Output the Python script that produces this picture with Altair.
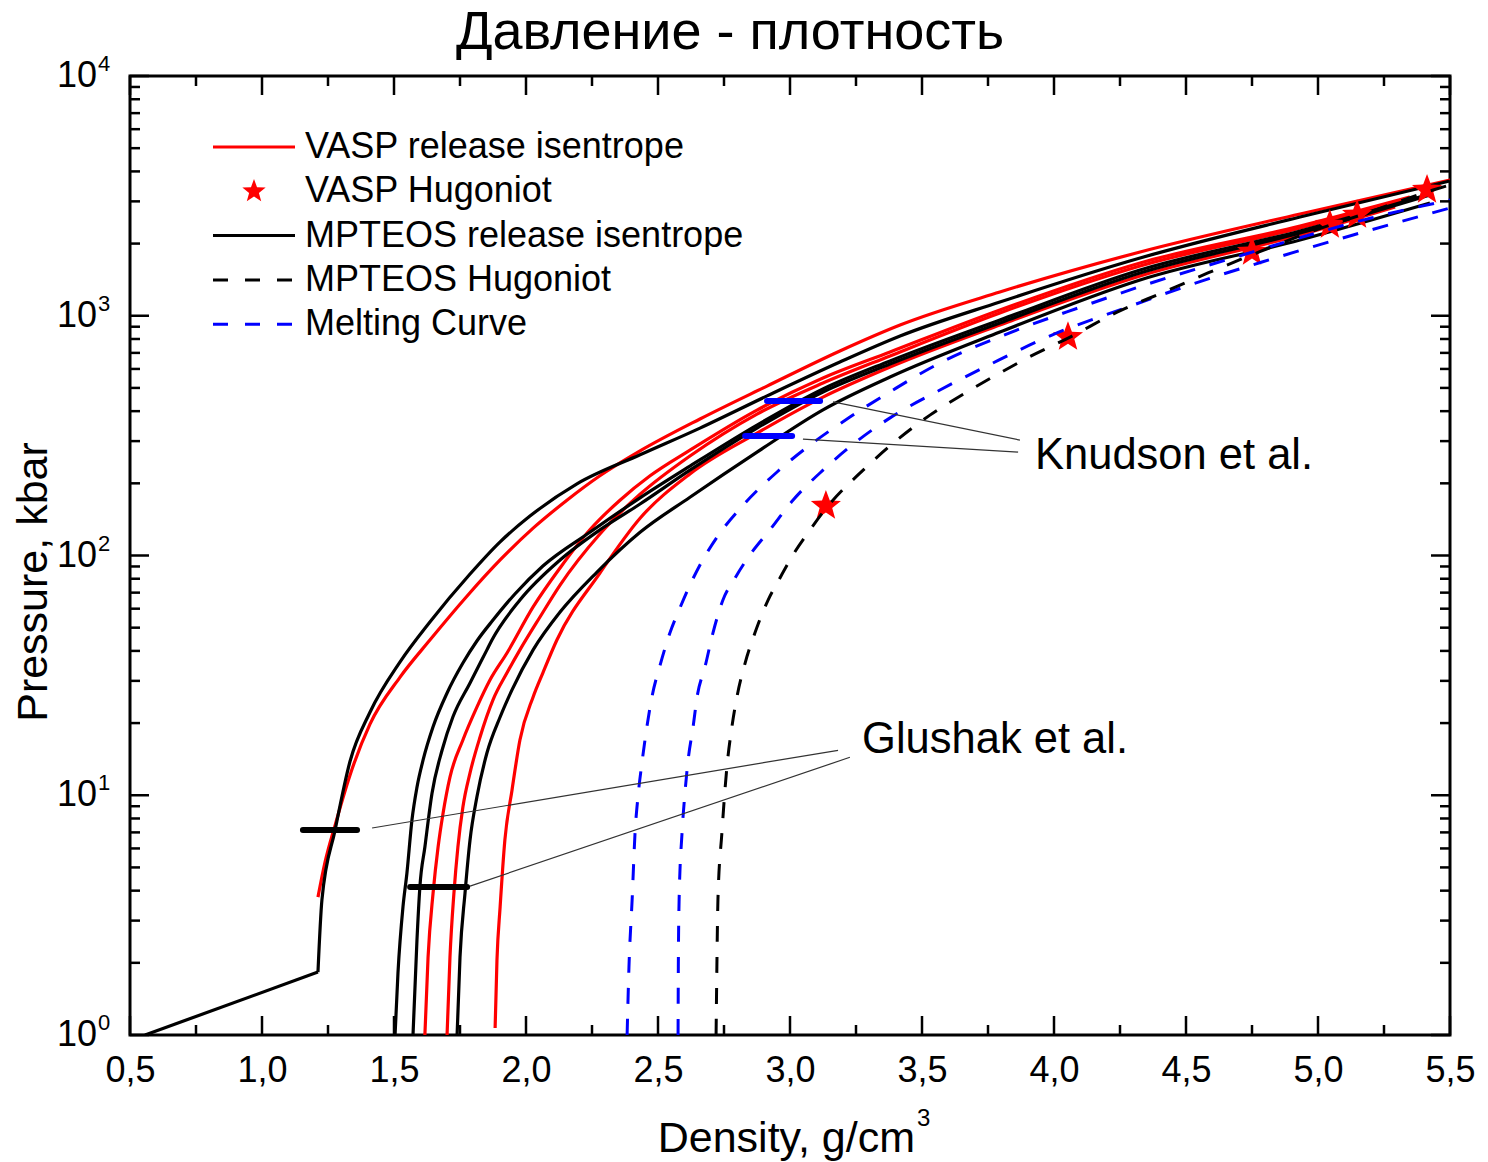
import altair as alt
import pandas as pd

# ---------------- data (density g/cm3, pressure kbar) ----------------
# VASP release isentropes (red)
vasp1_rho = [1.212, 1.239, 1.277, 1.333, 1.409, 1.523, 1.636, 1.777, 1.902, 2.027, 2.155, 2.280, 2.432, 2.659, 2.913, 3.189, 3.417, 3.795, 4.326, 4.932, 5.500]
vasp1_p = [3.76, 5.27, 7.51, 12.1, 19.8, 31.1, 44.4, 67.8, 95.8, 130, 170, 215, 273, 371, 509, 713, 915, 1256, 1845, 2658, 3684]
vasp2_rho = [1.617, 1.629, 1.648, 1.667, 1.686, 1.712, 1.761, 1.814, 1.864, 1.928, 2.027, 2.129, 2.242, 2.356, 2.470, 2.621, 2.875, 3.125, 3.379, 3.795, 4.326, 4.932, 5.348]
vasp2_p = [1.00, 2.11, 3.91, 6.08, 8.43, 11.9, 17.0, 23.3, 30.3, 39.2, 61.0, 88.7, 128, 170, 215, 275, 404, 550, 706, 1057, 1660, 2368, 3129]
vasp3_rho = [1.701, 1.712, 1.727, 1.742, 1.761, 1.788, 1.826, 1.875, 1.928, 1.977, 2.053, 2.129, 2.280, 2.432, 2.621, 2.875, 3.125, 3.379, 3.795, 4.326, 4.932, 5.348]
vasp3_p = [1.00, 2.11, 3.91, 6.08, 8.93, 12.4, 17.5, 25.0, 32.4, 40.4, 55.4, 75.3, 123, 180, 260, 389, 524, 680, 1027, 1613, 2323, 3100]
vasp4_rho = [1.883, 1.890, 1.902, 1.920, 1.947, 1.977, 2.027, 2.064, 2.117, 2.280, 2.432, 2.621, 2.875, 3.125, 3.379, 3.795, 4.326, 4.932, 5.292]
vasp4_p = [1.07, 2.05, 3.42, 6.51, 10.5, 17.0, 25.7, 32.4, 44.4, 84.5, 143, 219, 324, 458, 611, 915, 1465, 2172, 2842]

# MPTEOS release isentropes (black); the first one has a low-density branch
mpt1_low_rho = [0.557, 1.212]
mpt1_low_p = [1.00, 1.83]
mpt1_rho = [1.212, 1.227, 1.277, 1.333, 1.409, 1.523, 1.636, 1.788, 1.902, 2.015, 2.193, 2.432, 2.659, 2.913, 3.189, 3.417, 3.795, 4.326, 4.932, 5.500]
mpt1_p = [1.83, 3.66, 7.16, 13.8, 22.2, 36.0, 52.8, 83.7, 114, 146, 199, 263, 340, 463, 641, 823, 1141, 1741, 2582, 3649]
mpt2_rho = [1.504, 1.515, 1.534, 1.549, 1.568, 1.587, 1.610, 1.648, 1.701, 1.761, 1.814, 1.875, 1.958, 2.064, 2.242, 2.432, 2.621, 2.875, 3.125, 3.379, 3.795, 4.326, 4.932, 5.424]
mpt2_p = [1.00, 1.81, 3.42, 4.74, 7.88, 10.8, 14.0, 19.3, 26.7, 35.6, 44.0, 53.8, 69.1, 90.4, 125, 174, 236, 350, 495, 648, 960, 1552, 2257, 3220]
mpt3_rho = [1.572, 1.587, 1.598, 1.617, 1.644, 1.682, 1.723, 1.788, 1.852, 1.871, 1.977, 2.129, 2.280, 2.432, 2.621, 2.875, 3.125, 3.379, 3.795, 4.326, 4.932, 5.424]
mpt3_p = [1.00, 2.49, 4.14, 6.08, 10.2, 15.4, 21.2, 29.4, 40.4, 44.4, 65.2, 95.8, 128, 164, 227, 340, 481, 629, 933, 1508, 2214, 3189]
mpt4_rho = [1.739, 1.750, 1.769, 1.788, 1.814, 1.852, 1.902, 1.947, 2.027, 2.129, 2.269, 2.432, 2.621, 2.875, 3.125, 3.379, 3.795, 4.326, 4.932, 5.424]
mpt4_p = [1.00, 2.11, 3.91, 6.51, 9.83, 15.0, 21.2, 27.5, 40.4, 58.1, 85.3, 125, 175, 270, 405, 555, 855, 1410, 2070, 2953]

# MPTEOS Hugoniot (black dashed)
hug_rho = [2.720, 2.723, 2.727, 2.742, 2.761, 2.780, 2.799, 2.830, 2.867, 2.917, 2.962, 3.011, 3.076, 3.140, 3.277, 3.405, 3.530, 3.670, 3.795, 3.898, 4.061, 4.239, 4.417, 4.583, 4.777, 4.970, 5.174, 5.436, 5.500]
hug_p = [1.00, 1.92, 3.66, 6.96, 13.1, 19.3, 25.7, 35.6, 47.5, 65.2, 80.6, 100.5, 128, 159, 227, 303, 385, 481, 577, 666, 815, 1036, 1256, 1508, 1845, 2235, 2658, 3346, 3511]

# Melting curves (blue dashed)
melt1_rho = [2.383, 2.390, 2.402, 2.413, 2.424, 2.439, 2.458, 2.477, 2.508, 2.545, 2.583, 2.621, 2.659, 2.723, 2.822, 2.951, 3.076, 3.227, 3.390, 3.553, 3.830, 4.102, 4.379, 4.652, 4.928, 5.201, 5.500]
melt1_p = [1.00, 1.92, 3.66, 6.96, 9.83, 13.6, 19.3, 25.7, 34.9, 47.5, 60.4, 75.3, 91.3, 119, 162, 223, 289, 378, 490, 623, 847, 1088, 1383, 1708, 2110, 2557, 3040]
melt2_rho = [2.576, 2.577, 2.580, 2.591, 2.602, 2.614, 2.633, 2.648, 2.678, 2.708, 2.746, 2.792, 2.848, 2.924, 3.011, 3.125, 3.254, 3.379, 3.568, 3.761, 3.992, 4.269, 4.515, 4.788, 5.133, 5.500]
melt2_p = [1.00, 1.92, 3.66, 6.96, 10.2, 14.0, 19.3, 25.7, 34.3, 47.5, 65.2, 80.6, 100.5, 128, 170, 227, 300, 375, 490, 629, 831, 1077, 1344, 1676, 2172, 2814]

# VASP Hugoniot points (red stars)
vasp_hug_rho = [3.136, 4.053, 4.750, 5.045, 5.148, 5.413]
vasp_hug_p = [161, 815, 1845, 2392, 2632, 3348]

# Experimental bars
knudson_rho_lo = [2.913, 2.830]
knudson_rho_hi = [3.114, 3.008]
knudson_p = [441, 315]
glushak_rho_lo = [1.155, 1.561]
glushak_rho_hi = [1.360, 1.777]
glushak_p = [7.16, 4.14]

# Annotation leader lines and labels
glushak_lead_rho0 = [1.417, 1.788]
glushak_lead_p0 = [7.30, 4.18]
glushak_lead_rho1 = [3.182, 3.227]
glushak_lead_p1 = [15.4, 14.4]
knudson_lead_rho0 = [3.163, 3.049]
knudson_lead_p0 = [437, 306]
knudson_lead_rho1 = [3.871, 3.864]
knudson_lead_p1 = [303, 270]
label_text = ["Glushak et al.", "Knudson et al."]
label_rho = [3.273, 3.928]
label_p = [17.0, 260]

# Axis ticks
x_major = [0.5, 1.0, 1.5, 2.0, 2.5, 3.0, 3.5, 4.0, 4.5, 5.0, 5.5]
x_minor = [0.75, 1.25, 1.75, 2.25, 2.75, 3.25, 3.75, 4.25, 4.75, 5.25]
y_major = [1, 10, 100, 1000, 10000]
y_exp = ["0", "1", "2", "3", "4"]
y_minor = [k * 10 ** d for d in range(4) for k in range(2, 10)]

legend_labels = ["VASP release isentrope", "VASP Hugoniot", "MPTEOS release isentrope",
                 "MPTEOS Hugoniot", "Melting Curve"]

# ---------------- styling ----------------
FONT = "Liberation Sans"
W, H = 1320, 959
RED = "#ff0000"
BLUE = "#0000ff"
DASH = [16, 15]
LW = 3.2
STAR = ("M0,-1L0.247,-0.34L0.951,-0.309L0.399,0.13L0.588,0.809L0,0.42"
        "L-0.588,0.809L-0.399,0.13L-0.951,-0.309L-0.247,-0.34Z")

XSCALE = alt.Scale(domain=[0.5, 5.5], nice=False, zero=False)
YSCALE = alt.Scale(type="log", domain=[1, 10000], nice=False)
XAXIS = alt.Axis(values=x_major, labelExpr="replace(format(datum.value, '.1f'), '.', ',')",
                 labelFont=FONT, labelFontSize=36, labelColor="black", labelPadding=18,
                 ticks=False, tickSize=0, domain=False, grid=False, title=None,
                 labelFlush=False, labelOverlap=False, orient="bottom")


def X(f):
    return alt.X(f"{f}:Q", scale=XSCALE, axis=XAXIS)


def Y(f):
    return alt.Y(f"{f}:Q", scale=YSCALE, axis=None)


def curve(rho, p, color, dash=None, width=LW, interp="monotone"):
    df = pd.DataFrame({"rho": rho, "p": p, "i": list(range(len(rho)))})
    kw = dict(color=color, strokeWidth=width, clip=True, interpolate=interp, strokeJoin="round")
    if dash:
        kw["strokeDash"] = dash
    return alt.Chart(df).mark_line(**kw).encode(x=X("rho"), y=Y("p"), order="i:Q")


layers = []

# VASP isentropes (red), then MPTEOS isentropes (black)
for r, p in [(vasp1_rho, vasp1_p), (vasp2_rho, vasp2_p), (vasp3_rho, vasp3_p), (vasp4_rho, vasp4_p)]:
    layers.append(curve(r, p, RED))
layers.append(curve(mpt1_low_rho, mpt1_low_p, "black", interp="linear"))
for r, p in [(mpt1_rho, mpt1_p), (mpt2_rho, mpt2_p), (mpt3_rho, mpt3_p), (mpt4_rho, mpt4_p)]:
    layers.append(curve(r, p, "black"))

# VASP Hugoniot stars
stars = pd.DataFrame({"rho": vasp_hug_rho, "p": vasp_hug_p})
layers.append(alt.Chart(stars).mark_point(shape=STAR, filled=True, color=RED, size=1000,
                                          opacity=1, strokeWidth=0, clip=True)
              .encode(x=X("rho"), y=Y("p")))

# Melting curves and MPTEOS Hugoniot (dashed)
layers.append(curve(melt1_rho, melt1_p, BLUE, DASH, 3))
layers.append(curve(melt2_rho, melt2_p, BLUE, DASH, 3))
layers.append(curve(hug_rho, hug_p, "black", DASH, 3))

# leader lines
lead = pd.DataFrame({
    "r0": glushak_lead_rho0 + knudson_lead_rho0,
    "p0": glushak_lead_p0 + knudson_lead_p0,
    "r1": glushak_lead_rho1 + knudson_lead_rho1,
    "p1": glushak_lead_p1 + knudson_lead_p1,
})
layers.append(alt.Chart(lead).mark_rule(color="#333333", strokeWidth=1.2)
              .encode(x=X("r0"), y=Y("p0"), x2=alt.X2("r1"), y2=alt.Y2("p1")))

# experimental bars
kn = pd.DataFrame({"lo": knudson_rho_lo, "hi": knudson_rho_hi, "p": knudson_p})
layers.append(alt.Chart(kn).mark_rule(color=BLUE, strokeWidth=6, strokeCap="round")
              .encode(x=X("lo"), x2=alt.X2("hi"), y=Y("p")))
gl = pd.DataFrame({"lo": glushak_rho_lo, "hi": glushak_rho_hi, "p": glushak_p})
layers.append(alt.Chart(gl).mark_rule(color="black", strokeWidth=6, strokeCap="round")
              .encode(x=X("lo"), x2=alt.X2("hi"), y=Y("p")))

# annotation labels
lab = pd.DataFrame({"t": label_text, "rho": label_rho, "p": label_p})
layers.append(alt.Chart(lab).mark_text(font=FONT, fontSize=43.5, align="left", baseline="middle",
                                       color="black")
              .encode(x=X("rho"), y=Y("p"), text="t:N"))

# inward ticks on all four sides
MAJ, MIN = 19, 10
dfxM = pd.DataFrame({"v": x_major})
dfxm = pd.DataFrame({"v": x_minor})
dfyM = pd.DataFrame({"v": y_major})
dfym = pd.DataFrame({"v": y_minor})
tick_kw = dict(color="black", strokeWidth=2.5)
for df, L in [(dfxM, MAJ), (dfxm, MIN)]:
    layers.append(alt.Chart(df).mark_rule(**tick_kw).encode(x=X("v"), y=alt.value(H), y2=alt.value(H - L)))
    layers.append(alt.Chart(df).mark_rule(**tick_kw).encode(x=X("v"), y=alt.value(0), y2=alt.value(L)))
for df, L in [(dfyM, MAJ), (dfym, MIN)]:
    layers.append(alt.Chart(df).mark_rule(**tick_kw).encode(y=Y("v"), x=alt.value(0), x2=alt.value(L)))
    layers.append(alt.Chart(df).mark_rule(**tick_kw).encode(y=Y("v"), x=alt.value(W), x2=alt.value(W - L)))

# y tick labels 10^n
ylab = pd.DataFrame({"v": y_major, "base": ["10"] * len(y_major), "e": y_exp})
layers.append(alt.Chart(ylab).mark_text(font=FONT, fontSize=36, align="right", baseline="middle",
                                        color="black")
              .encode(x=alt.value(-33), y=Y("v"), text="base:N"))
layers.append(alt.Chart(ylab).mark_text(font=FONT, fontSize=22, align="left", baseline="middle",
                                        color="black", dy=-12)
              .encode(x=alt.value(-32), y=Y("v"), text="e:N"))

# legend (inside plot, top-left)
LX0, LX1, LXT = 83, 165, 175
for i, name in enumerate(legend_labels):
    yy = 71 + 44.3 * i
    one = pd.DataFrame({"t": [name]})
    if i == 1:
        layers.append(alt.Chart(one).mark_point(shape=STAR, filled=True, color=RED, size=600,
                                                opacity=1, strokeWidth=0)
                      .encode(x=alt.value((LX0 + LX1) / 2), y=alt.value(yy)))
    else:
        color = {0: RED, 2: "black", 3: "black", 4: BLUE}[i]
        kw = dict(color=color, strokeWidth=3)
        if i in (3, 4):
            kw["strokeDash"] = [15, 17]
        layers.append(alt.Chart(one).mark_rule(**kw)
                      .encode(x=alt.value(LX0), x2=alt.value(LX1), y=alt.value(yy)))
    layers.append(alt.Chart(one).mark_text(font=FONT, fontSize=36, align="left", baseline="middle",
                                           color="black")
                  .encode(x=alt.value(LXT), y=alt.value(yy), text="t:N"))

# title and axis titles
texts = [
    ("Давление - плотность", 600, -27, 0, 54, "center"),
    ("Density, g/cm", 785, 1076, 0, 43, "right"),
    ("3", 787, 1050, 0, 24, "left"),
    ("Pressure, kbar", -83, 506, 270, 43, "center"),
]
for t, xx, yy, ang, fs, al in texts:
    layers.append(alt.Chart(pd.DataFrame({"t": [t]}))
                  .mark_text(font=FONT, fontSize=fs, align=al, baseline="alphabetic", angle=ang,
                             color="black")
                  .encode(x=alt.value(xx), y=alt.value(yy), text="t:N"))

chart = (alt.layer(*layers)
         .properties(width=W, height=H, autosize=alt.AutoSizeParams(type="none"),
                     padding={"left": 130, "top": 76, "right": 38, "bottom": 127},
                     background="white")
         .configure_view(stroke="black", strokeWidth=3))

chart.save("out.html", embed_options={"renderer": "svg", "actions": False})
